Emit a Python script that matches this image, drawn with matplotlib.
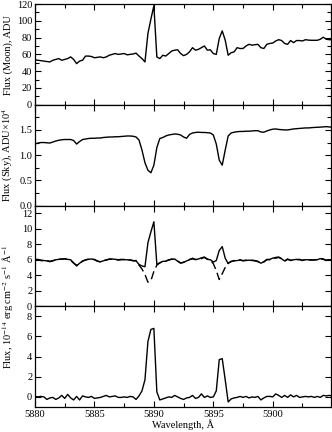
import numpy as np
import matplotlib
matplotlib.use('Agg')
from matplotlib import pyplot as plt
from matplotlib.ticker import MultipleLocator

plt.rcParams['font.family'] = ['Liberation Serif', 'DejaVu Serif']
plt.rcParams['mathtext.fontset'] = 'stix'
plt.rcParams['font.size'] = 7.5

# wavelength grid, 0.25 A sampling
wavelength = np.linspace(5880, 5905, 101)

moon_adu = [53.5, 53, 52.5, 52, 51.5, 51, 53, 54, 55, 53,
            54, 55, 57, 54, 49, 52, 53, 58, 58, 57.5,
            56, 56.5, 57, 56, 57, 59, 60, 61, 60, 60.5,
            61, 59.5, 60, 60.5, 61.5, 58, 55, 51, 85, 102,
            118, 57, 55, 59, 58, 61, 64, 65, 65.5, 61,
            58.5, 60, 63, 68, 65, 66, 68, 70, 65, 65.5,
            61, 60, 79, 88, 77, 59, 62, 63, 68, 67,
            67, 70, 72, 71, 71.5, 72, 68, 67, 72, 73,
            73.5, 76, 77.5, 76.5, 73, 72, 76.5, 74, 76.5, 76.5,
            76, 77.5, 77, 76.8, 76.8, 76.8, 78, 80.5, 78, 77.5,
            77.5]

sky_adu = [1.22, 1.24, 1.25, 1.25, 1.245, 1.24, 1.26, 1.28, 1.295, 1.305,
           1.31, 1.31, 1.31, 1.29, 1.22, 1.27, 1.31, 1.32, 1.33, 1.335,
           1.335, 1.34, 1.34, 1.35, 1.355, 1.36, 1.36, 1.365, 1.365, 1.37,
           1.375, 1.38, 1.38, 1.375, 1.36, 1.30, 1.10, 0.85, 0.70, 0.65,
           0.80, 1.15, 1.33, 1.35, 1.38, 1.40, 1.41, 1.42, 1.415, 1.40,
           1.36, 1.335, 1.41, 1.44, 1.45, 1.455, 1.45, 1.45, 1.445, 1.44,
           1.40, 1.22, 0.90, 0.80, 1.10, 1.38, 1.44, 1.455, 1.465, 1.47,
           1.47, 1.475, 1.475, 1.48, 1.485, 1.485, 1.46, 1.455, 1.48, 1.50,
           1.515, 1.52, 1.51, 1.505, 1.50, 1.50, 1.51, 1.52, 1.525, 1.53,
           1.535, 1.54, 1.54, 1.545, 1.55, 1.553, 1.556, 1.56, 1.566, 1.56,
           1.553]

moon_flux = [6.05, 6.0, 5.95, 5.9, 5.85, 5.75, 5.85, 6.0, 6.05, 6.1,
             6.1, 6.05, 6.0, 5.6, 5.2, 5.55, 5.8, 6.0, 6.05, 6.1,
             6.0, 5.8, 5.75, 5.85, 6.0, 6.05, 6.1, 6.05, 6.0, 6.05,
             6.0, 6.0, 5.95, 5.9, 5.85, 5.4, 5.2, 5.1, 8.2, 9.6,
             10.9, 5.4, 5.6, 5.8, 5.8, 6.0, 6.05, 6.1, 5.8, 5.6,
             5.65, 5.85, 6.0, 6.2, 6.0, 6.1, 6.25, 6.35, 6.05, 6.0,
             5.7, 5.9, 7.2, 7.7, 6.2, 5.5, 5.8, 5.85, 5.9, 5.95,
             5.9, 5.9, 5.95, 5.9, 5.9, 5.8, 5.55, 5.75, 6.0, 6.05,
             6.2, 6.3, 6.35, 6.1, 5.85, 6.1, 5.9, 6.0, 6.05, 6.0,
             5.95, 6.0, 6.0, 5.95, 6.0, 6.0, 6.15, 6.1, 5.95, 6.0,
             6.0]

sky_flux = [6.0, 6.05, 5.9, 5.85, 5.9, 5.8, 5.9, 5.95, 6.1, 6.05,
            6.15, 6.0, 5.95, 5.55, 5.3, 5.5, 5.85, 5.95, 6.1, 6.05,
            6.05, 5.85, 5.7, 5.9, 5.95, 6.1, 6.05, 6.1, 5.95, 6.0,
            6.05, 5.95, 6.0, 5.85, 5.9, 5.3, 4.8, 4.1, 3.1, 3.3,
            4.5, 5.3, 5.6, 5.75, 5.85, 5.95, 6.1, 6.0, 5.85, 5.55,
            5.7, 5.8, 6.05, 6.1, 6.05, 6.05, 6.15, 6.3, 6.1, 5.95,
            5.5, 4.6, 3.45, 4.2, 5.0, 5.6, 5.75, 5.9, 5.85, 6.0,
            5.85, 5.95, 5.9, 5.95, 5.85, 5.75, 5.6, 5.7, 6.05, 6.0,
            6.25, 6.2, 6.3, 6.15, 5.8, 6.05, 5.95, 5.95, 6.0, 6.05,
            5.9, 6.05, 5.95, 6.0, 5.95, 6.05, 6.1, 6.05, 5.9, 6.05,
            5.95]

residual = [0.05, 0.0, 0.05, 0.0, -0.25, -0.1, -0.05, -0.25, -0.1, 0.15,
            -0.15, 0.25, -0.1, -0.3, 0.05, -0.3, 0.1, 0.0, -0.05, 0.05,
            -0.15, -0.1, -0.05, 0.05, 0.15, 0.0, 0.05, 0.1, -0.05, -0.05,
            0.0, -0.05, 0.05, 0.0, -0.25, 0.1, 0.6, 1.7, 5.5, 6.7,
            6.8, 0.5, -0.3, -0.2, -0.1, 0.0, -0.05, 0.15, 0.0, -0.15,
            -0.25, -0.1, -0.05, 0.15, -0.15, -0.05, 0.3, -0.05, 0.1, -0.05,
            0.0, 0.6, 3.7, 3.8, 1.7, -0.5, -0.2, -0.1, -0.05, 0.05,
            -0.05, 0.05, -0.1, 0.0, -0.05, 0.05, -0.3, -0.1, 0.05, 0.05,
            0.0, 0.3, 0.15, -0.05, 0.15, -0.05, 0.2, 0.0, 0.15, -0.05,
            0.0, 0.05, 0.0, 0.05, -0.05, 0.05, -0.05, 0.15, 0.1, 0.15,
            0.1]

fig, axes = plt.subplots(4, 1, figsize=(3.32, 4.32), dpi=100, sharex=True)
fig.subplots_adjust(left=0.1054, right=0.997, top=0.9907, bottom=0.0579, hspace=0)

lw = 1.0
axes[0].plot(wavelength, moon_adu, color='black', lw=lw)
axes[1].plot(wavelength, sky_adu, color='black', lw=lw)
axes[2].plot(wavelength, sky_flux, color='black', lw=lw, ls=(0, (6, 3)))
axes[2].plot(wavelength, moon_flux, color='black', lw=lw)
axes[3].plot(wavelength, residual, color='black', lw=lw)

# y ranges and ticks per panel
axes[0].set_ylim(0, 120)
axes[0].yaxis.set_major_locator(MultipleLocator(20))
axes[0].yaxis.set_minor_locator(MultipleLocator(10))
axes[1].set_ylim(0, 2.0)
axes[1].set_yticks([0.0, 0.5, 1.0, 1.5])
axes[1].yaxis.set_major_formatter(plt.FormatStrFormatter('%.1f'))
axes[1].yaxis.set_minor_locator(MultipleLocator(0.25))
axes[2].set_ylim(0, 13)
axes[2].set_yticks(range(0, 13, 2))
axes[3].set_ylim(-1, 9)
axes[3].set_yticks(range(0, 9, 2))

for ax in axes:
    ax.set_xlim(5880, 5904.9)
    ax.xaxis.set_major_locator(MultipleLocator(5))
    ax.xaxis.set_minor_locator(MultipleLocator(2.5))
    ax.tick_params(which='both', direction='in', top=True, right=True,
                   labelsize=7.5, width=0.8, pad=2)
    ax.tick_params(which='major', length=4)
    ax.tick_params(which='minor', length=3)
    for s in ax.spines.values():
        s.set_linewidth(0.9)

axes[3].xaxis.set_major_formatter(plt.FormatStrFormatter('%d'))

fig.text(8 / 332, 1 - 55 / 432, 'Flux (Moon), ADU', rotation=90,
         ha='center', va='center', fontsize=7.5)
fig.text(8 / 332, 1 - 155 / 432, 'Flux (Sky), ADU\u00d710$^{4}$', rotation=90,
         ha='center', va='center', fontsize=7.5)
fig.text(8 / 332, 1 - 307 / 432,
         'Flux, 10$^{-14}$ erg cm$^{-2}$ s$^{-1}$ \u00c5$^{-1}$', rotation=90,
         ha='center', va='center', fontsize=7.5)
fig.text(183 / 332, 1 - 425 / 432, 'Wavelength, \u00c5', ha='center',
         va='center', fontsize=7.5)

fig.savefig('out.png', dpi=100)
